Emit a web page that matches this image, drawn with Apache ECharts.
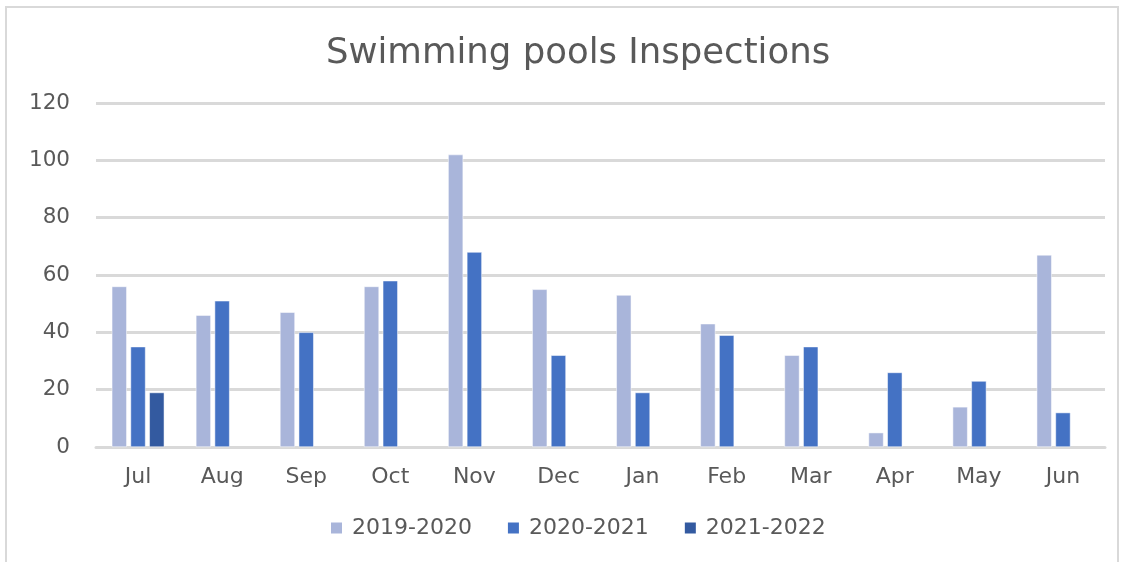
<!DOCTYPE html>
<html>
<head>
<meta charset="utf-8">
<script src="https://cdn.jsdelivr.net/npm/echarts@6/dist/echarts.min.js"></script>
<style>
  html, body { margin: 0; padding: 0; background: #fff; }
  .frame {
    position: absolute; left: 5px; top: 6px; width: 1114px; height: 570px;
    border: 2px solid #d9d9d9; box-sizing: border-box;
  }
  #chart { position: absolute; left: 0; top: 0; width: 1128px; height: 562px; }
</style>
</head>
<body>
<div class="frame"></div>
<div id="chart"></div>
<script>
const months = ["Jul", "Aug", "Sep", "Oct", "Nov", "Dec", "Jan", "Feb", "Mar", "Apr", "May", "Jun"]
const s2019 = [56, 46, 47, 56, 102, 55, 53, 43, 32, 5, 14, 67]
const s2020 = [35, 51, 40, 58, 68, 32, 19, 39, 35, 26, 23, 12]
const s2021 = [19, null, null, null, null, null, null, null, null, null, null, null]
const yTicks = [0, 20, 40, 60, 80, 100, 120]

const chart = echarts.init(document.getElementById("chart"))
const font = "DejaVu Sans, sans-serif"
const bar = (name, data, color) => ({
  name,
  type: "bar",
  data,
  barWidth: 15,
  barGap: "25%",
  itemStyle: { color, borderColor: "#fff", borderWidth: 0.5 }
})

chart.setOption({
  animation: false,
  title: {
    text: "Swimming pools Inspections",
    left: 573,
    textAlign: "center",
    top: 31,
    textStyle: { fontFamily: font, fontSize: 35.5, fontWeight: "normal", color: "#595959" }
  },
  legend: {
    bottom: 18,
    left: 324,
    itemWidth: 13,
    itemHeight: 13,
    itemGap: 34,
    icon: "rect",
    textStyle: { fontFamily: font, fontSize: 22, color: "#595959", padding: [0, 0, 0, 4] }
  },
  grid: { left: 96, right: 23, top: 103, bottom: 115 },
  xAxis: {
    type: "category",
    data: months,
    axisLine: { show: true, lineStyle: { color: "#d9d9d9", width: 3 } },
    axisTick: { show: false },
    axisLabel: { fontFamily: font, fontSize: 22, color: "#595959", margin: 19 }
  },
  yAxis: {
    type: "value",
    min: yTicks[0],
    max: yTicks[yTicks.length - 1],
    interval: 20,
    axisLine: { show: false },
    axisTick: { show: false },
    splitLine: { lineStyle: { color: "#d9d9d9", width: 3 } },
    axisLabel: { fontFamily: font, fontSize: 21.5, color: "#595959", margin: 26 }
  },
  series: [
    bar("2019-2020", s2019, "#a9b5da"),
    bar("2020-2021", s2020, "#4472c4"),
    bar("2021-2022", s2021, "#335aa0")
  ]
})
</script>
</body>
</html>
